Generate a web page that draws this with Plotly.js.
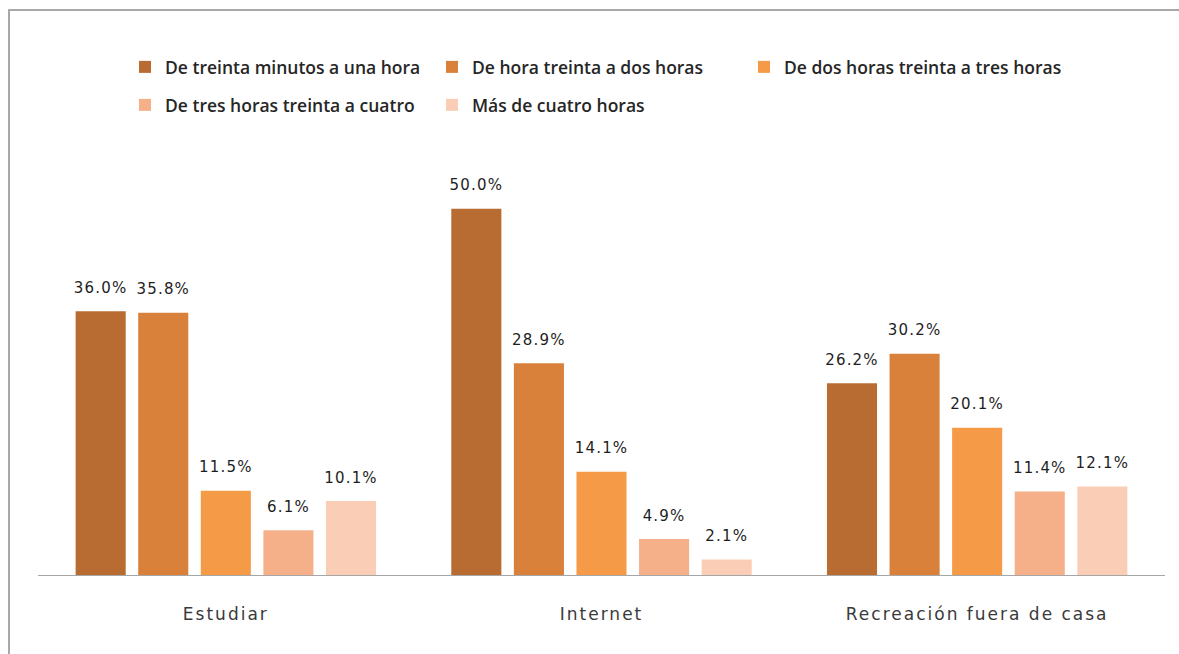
<!DOCTYPE html>
<html>
<head>
<meta charset="utf-8">
<script src="https://cdn.plot.ly/plotly-3.0.1.min.js"></script>
<style>
html,body{margin:0;padding:0;background:#fff;}
#chart{width:1179px;height:654px;}
#frame{position:absolute;left:8px;top:9px;width:1200px;height:700px;border-left:2px solid #a8a8a8;border-top:2px solid #a8a8a8;pointer-events:none;}
.xtick text{letter-spacing:2px;}
.textpoint text{letter-spacing:1.2px;}
</style>
</head>
<body>
<div id="chart"></div>
<div id="frame"></div>
<script>
const categories = ["Estudiar", "Internet", "Recreación fuera de casa"];
const seriesNames = [
  "De treinta minutos a una hora",
  "De hora treinta a dos horas",
  "De dos horas treinta a tres horas",
  "De tres horas treinta a cuatro",
  "Más de cuatro horas"
];
const treintaMinUnaHora = [36.0, 50.0, 26.2];
const horaTreintaDos = [35.8, 28.9, 30.2];
const dosTreintaTres = [11.5, 14.1, 20.1];
const tresTreintaCuatro = [6.1, 4.9, 11.4];
const masCuatro = [10.1, 2.1, 12.1];
const seriesValues = [treintaMinUnaHora, horaTreintaDos, dosTreintaTres, tresTreintaCuatro, masCuatro];
const colors = ["#b86c31", "#d9803a", "#f59a46", "#f5b08a", "#f9cdb6"];
const legendIds = ["legend", "legend", "legend3", "legend2", "legend2"];

const barTraces = seriesValues.map((vals, i) => ({
  type: "bar",
  name: seriesNames[i],
  legend: legendIds[i],
  x: categories,
  y: vals,
  marker: {color: colors[i]},
  cliponaxis: false,
  hoverinfo: "skip"
}));

const labelTraces = seriesValues.map((vals, i) => ({
  type: "scatter",
  mode: "markers+text",
  showlegend: false,
  x: categories,
  y: vals,
  text: vals.map(v => v.toFixed(1) + "%"),
  textposition: "top center",
  textfont: {family: "DejaVu Sans", size: 15, color: "#1e1e1e"},
  marker: {size: 22, opacity: 0, color: colors[i]},
  cliponaxis: false,
  hoverinfo: "skip"
}));

const legendFont = {family: "Open Sans", size: 17.5, color: "#262626", weight: 600};
const baseLegend = {
  orientation: "h",
  xref: "container",
  x: 125 / 1179,
  xanchor: "left",
  yref: "container",
  yanchor: "middle",
  entrywidth: 262,
  traceorder: "normal",
  font: legendFont,
  itemclick: false
};

const layout = {
  width: 1179,
  height: 654,
  margin: {l: 38, r: 14, t: 140, b: 79},
  paper_bgcolor: "#ffffff",
  plot_bgcolor: "#ffffff",
  barmode: "group",
  bargap: 0.167,
  bargroupgap: 0.2,
  scattermode: "group",
  scattergap: 0.167,
  showlegend: true,
  legend: Object.assign({}, baseLegend, {y: 1 - 67 / 654}),
  legend2: Object.assign({}, baseLegend, {y: 1 - 105 / 654}),
  legend3: Object.assign({}, baseLegend, {y: 1 - 67 / 654, x: 744 / 1179, entrywidth: 0}),
  xaxis: {
    type: "category",
    showline: true,
    linecolor: "#a6a6a6",
    linewidth: 1,
    ticks: "",
    ticklabelstandoff: 24,
    tickfont: {family: "DejaVu Sans", size: 17, color: "#3a3a3a"},
    showgrid: false
  },
  yaxis: {
    range: [0, 59.4],
    visible: false,
    showgrid: false,
    zeroline: false
  }
};

Plotly.newPlot("chart", barTraces.concat(labelTraces), layout, {displayModeBar: false, staticPlot: true});
</script>
</body>
</html>
